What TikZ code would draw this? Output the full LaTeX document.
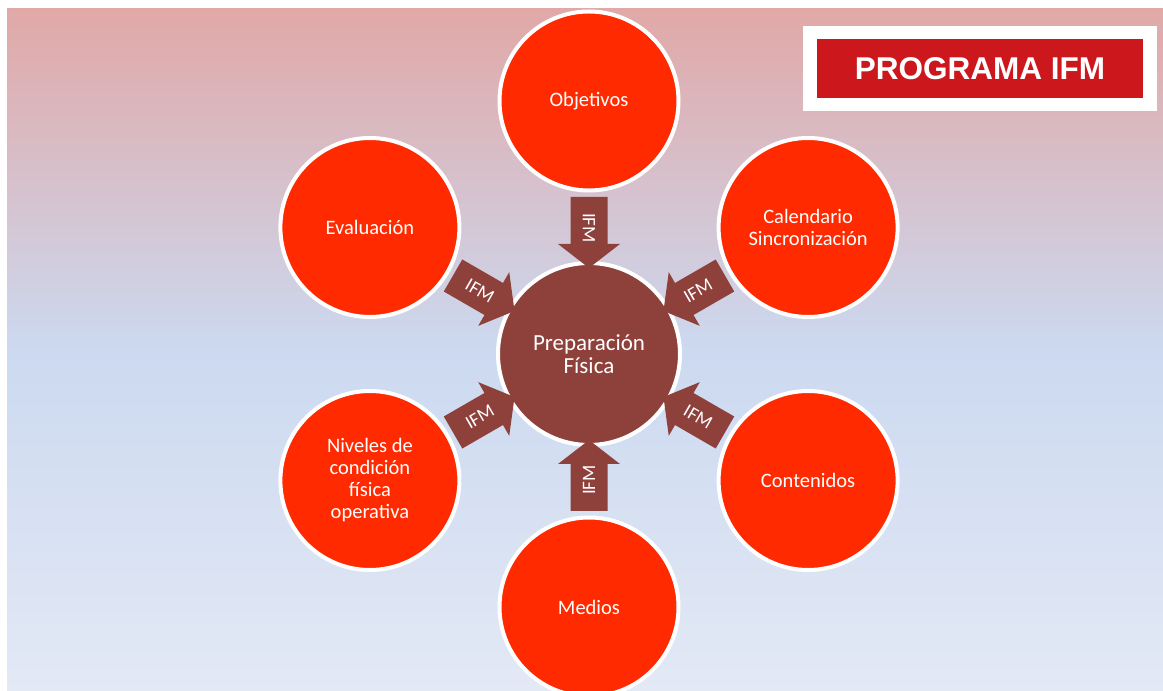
\documentclass[tikz,border=0pt]{standalone}
\usepackage{fontspec}
\usetikzlibrary{calc}
\setmainfont{Carlito}
\newfontfamily\headfont{Liberation Sans}
\definecolor{bgtop}{HTML}{E1A8A7}
\definecolor{bgmid}{HTML}{CCD9F0}
\definecolor{bgbot}{HTML}{E3E9F5}
\definecolor{ringred}{HTML}{FF2A00}
\definecolor{hubbrown}{HTML}{8E403B}
\definecolor{titlered}{HTML}{CC171C}
\tikzset{
  topic/.style={circle, draw=white, line width=4pt, fill=ringred, minimum size=179pt,
    inner sep=0pt, align=center, text=white, font=\fontsize{20.5}{22}\selectfont},
  hub/.style={circle, draw=white, line width=4pt, fill=hubbrown, minimum size=182pt,
    inner sep=0pt, align=center, text=white, font=\fontsize{23}{23}\selectfont},
  blockarrow/.style={fill=hubbrown, draw=none},
  arrowlabel/.style={text=white, inner sep=0pt, font=\fontsize{19}{19}\selectfont},
}
\begin{document}
\begin{tikzpicture}[x=1pt,y=1pt]
  \useasboundingbox (0,0) rectangle (1163,691);
  % page background
  \fill[white] (0,0) rectangle (1163,691);
  \shade[top color=bgtop, bottom color=bgbot, middle color=bgmid] (7,0) rectangle (1163,682);

  % title banner
  \node[fill=white, minimum width=354pt, minimum height=85pt, inner sep=0pt] (titleframe) at (980,622.5) {};
  \node[fill=titlered, minimum width=326pt, minimum height=59pt, inner sep=0pt, text=white,
        font=\headfont\bfseries\fontsize{31.5}{31.5}\selectfont] (title) at (980,622.5) {PROGRAMA IFM};

  % hub and the six surrounding topics
  \coordinate (c) at (589,337);
  \node[topic] (obj) at ($(c)+(90:253)$) {Objetivos};
  \node[topic] (cal) at ($(c)+(30:253)$) {Calendario\\Sincronización};
  \node[topic] (con) at ($(c)+(-30:253)$) {Contenidos};
  \node[topic] (med) at ($(c)+(-90:253)$) {Medios};
  \node[topic] (niv) at ($(c)+(210:253)$) {Niveles de\\condición\\física\\operativa};
  \node[topic] (eva) at ($(c)+(150:253)$) {Evaluación};
  \node[hub] (hub) at (c) {Preparación\\Física};

  % block arrows pointing from each topic towards the hub
  \foreach \ang/\rot/\nm in {90/-90/a1, 30/30/a2, -30/-30/a3, -90/90/a4, 210/30/a5, 150/-30/a6}{
    \begin{scope}[shift={(hub.center)}, rotate=\ang]
      \fill[blockarrow] (157,18.5) -- (110,18.5) -- (110,31) -- (86,0)
        -- (110,-31) -- (110,-18.5) -- (157,-18.5) -- cycle;
    \end{scope}
    \node[arrowlabel, rotate=\rot] (\nm) at ($(hub.center)+(\ang:126)$) {IFM};
  }
\end{tikzpicture}
\end{document}
